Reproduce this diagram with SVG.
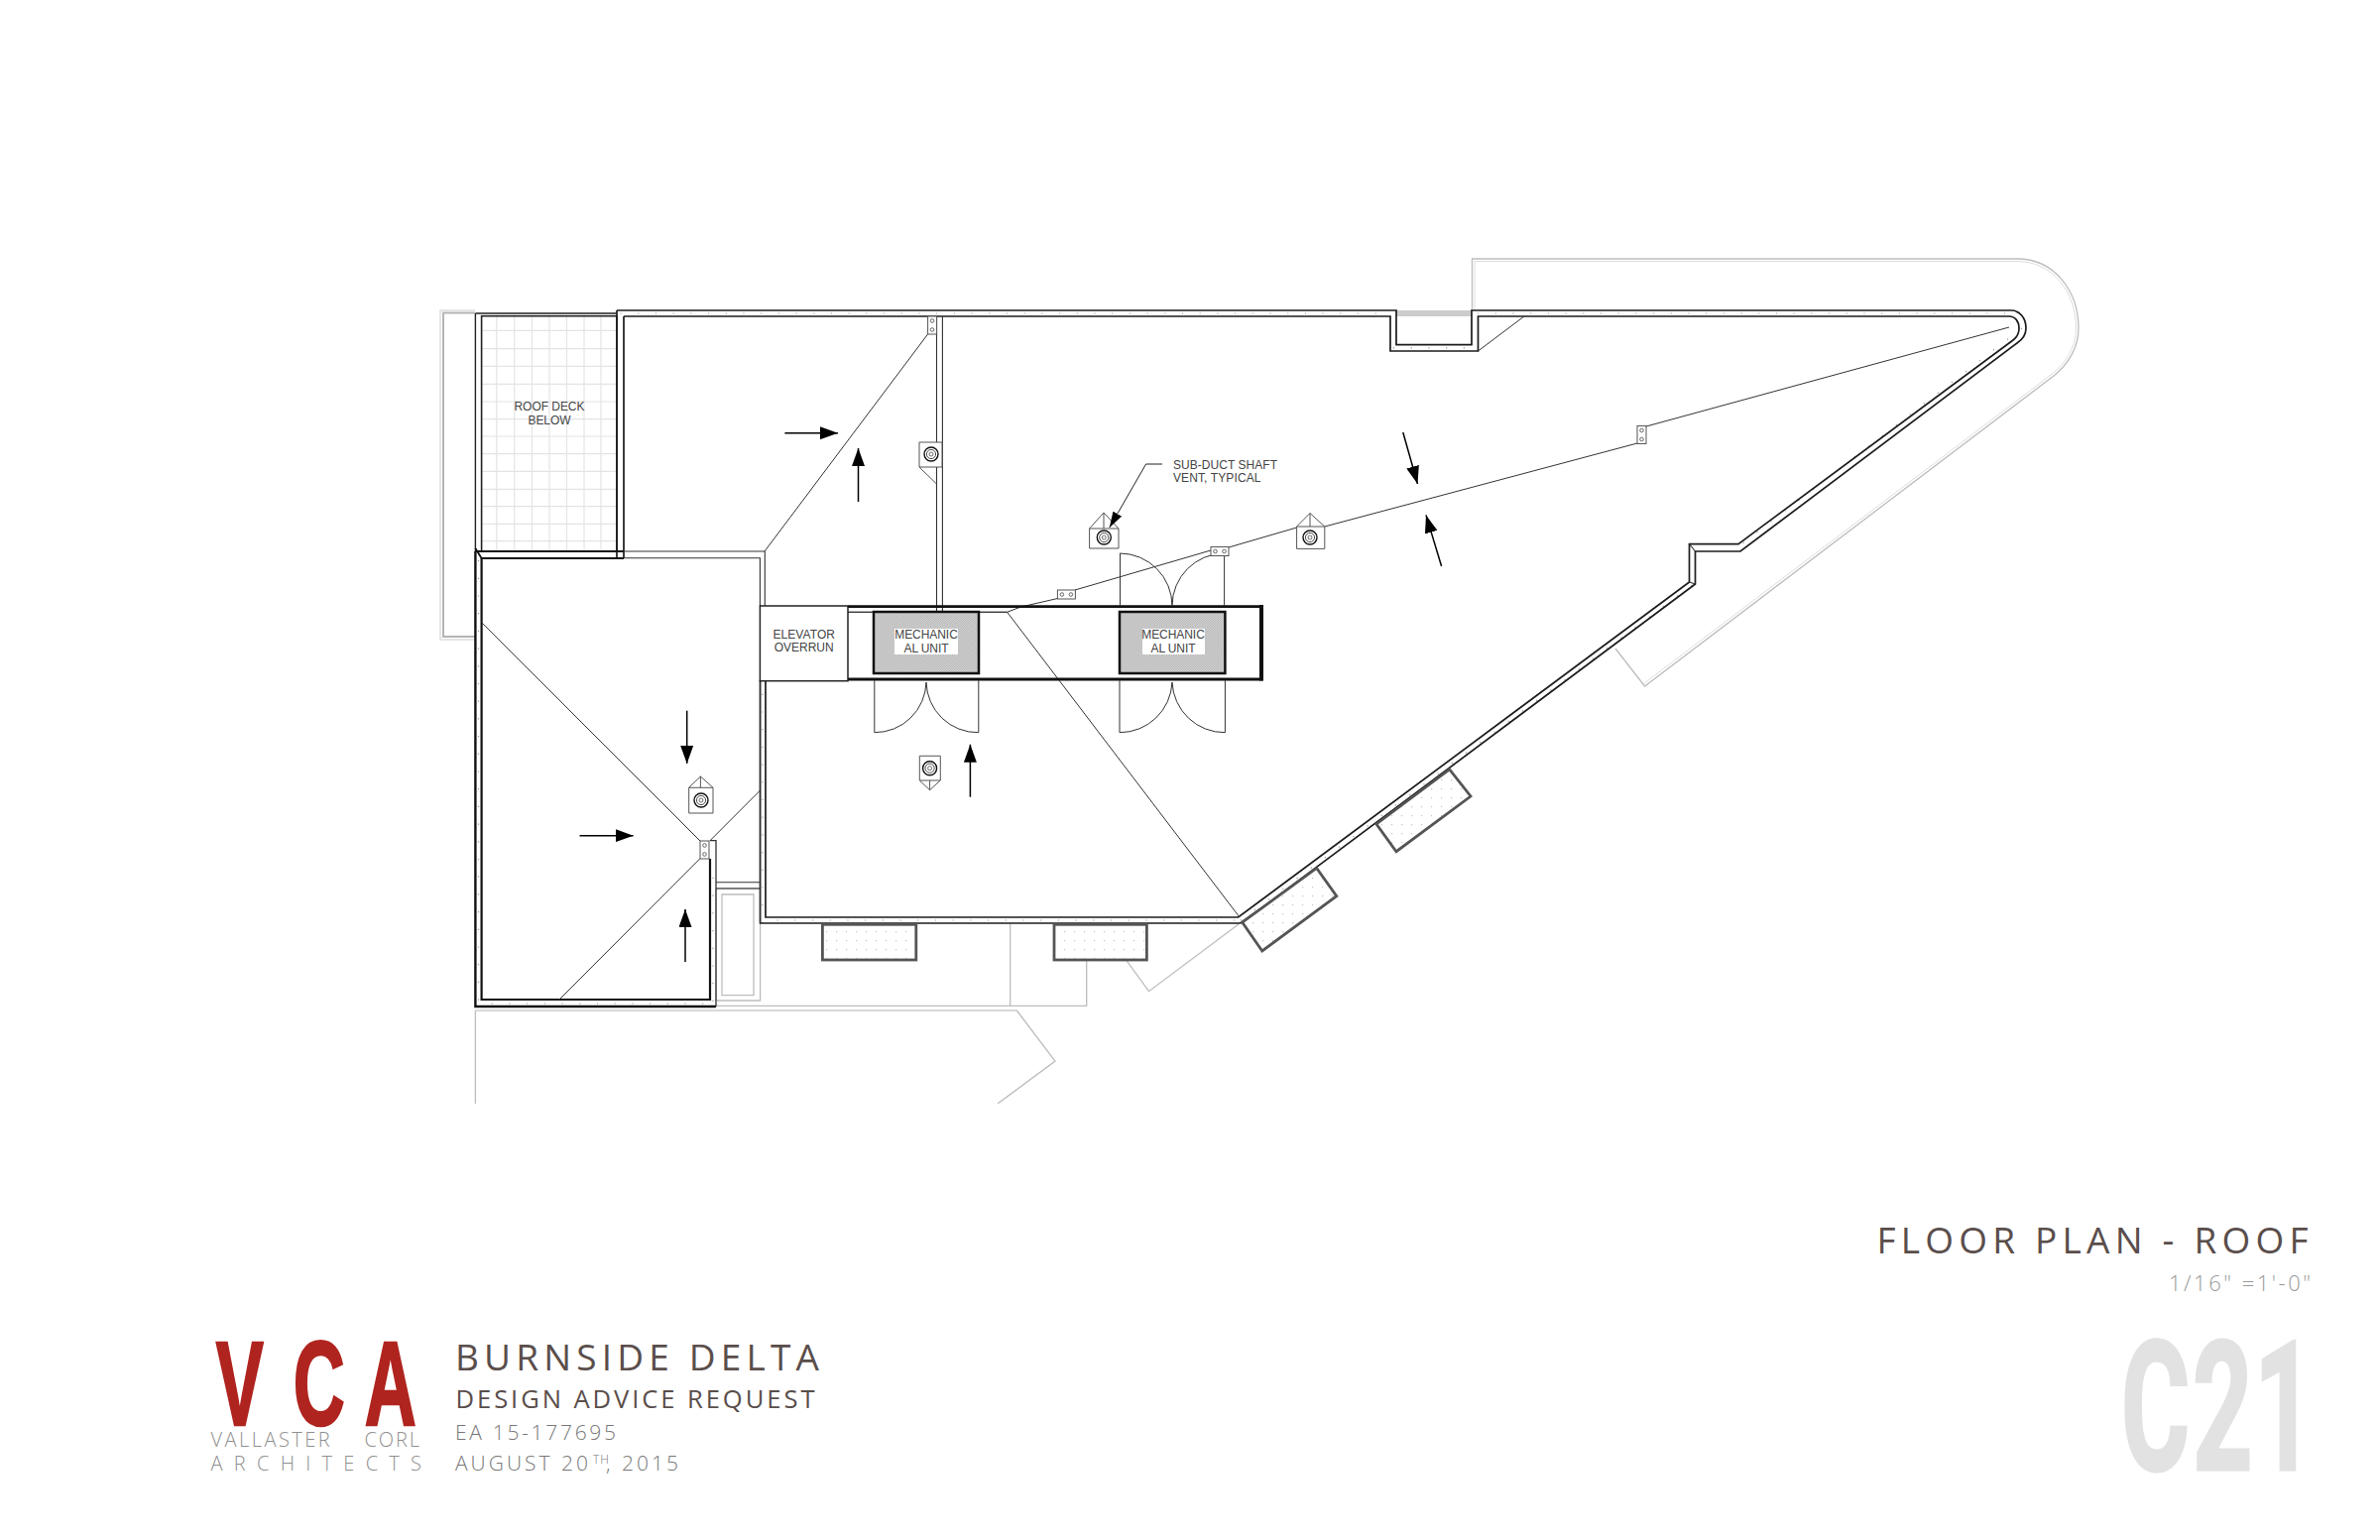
<svg xmlns="http://www.w3.org/2000/svg" xmlns:xlink="http://www.w3.org/1999/xlink" width="2400" height="1553" viewBox="0 0 2400 1553">
<style>
.w{fill:none;stroke:#1c1c1c;stroke-width:1.7;stroke-linejoin:miter}
.t{fill:none;stroke:#333;stroke-width:1.1}
.f{fill:none;stroke:#333;stroke-width:1}
.p{fill:none;stroke:#bdbdbd;stroke-width:1.3}
.gr{fill:none;stroke:#e4e4e4;stroke-width:1.2}
.dot{fill:none;stroke:#999;stroke-width:1.2;stroke-dasharray:1.2 16.5}
.lb{font-family:"Liberation Sans",Arial,sans-serif;font-size:12px;fill:#444;text-anchor:middle;font-weight:400}
.o{font-family:"Open Sans","Noto Sans",sans-serif}
.arrow{stroke:#000;stroke-width:1.5;marker-end:url(#ah)}
.vb{fill:#fff;stroke:#555;stroke-width:1}
.pl{fill:url(#sp);stroke:#555;stroke-width:2.8}
</style>
<defs>
<marker id="ah" markerUnits="userSpaceOnUse" markerWidth="18" markerHeight="13" refX="18" refY="6.5" orient="auto"><path d="M0 0L18 6.5L0 13Z" fill="#000"/></marker>
<marker id="ah2" markerUnits="userSpaceOnUse" markerWidth="16" markerHeight="10" refX="16" refY="5" orient="auto"><path d="M0 0L16 5L0 10Z" fill="#000"/></marker>
<pattern id="mesh" width="2.4" height="2.4" patternUnits="userSpaceOnUse"><rect width="2.4" height="2.4" fill="#e2e2e2"/><rect width="1.2" height="1.2" fill="#a8a8a8"/><rect x="1.2" y="1.2" width="1.2" height="1.2" fill="#a8a8a8"/></pattern>
<pattern id="sp" width="10" height="9" patternUnits="userSpaceOnUse"><rect width="10" height="9" fill="#fff"/><rect x="3" y="3" width="1.2" height="1.2" fill="#c4c4c4"/></pattern>
<g id="rings"><circle r="7" fill="#fff" stroke="#111" stroke-width="1.4"/><circle r="4.6" fill="none" stroke="#222" stroke-width=".8"/><circle r="2" fill="none" stroke="#333" stroke-width=".7"/></g>
<g id="drainV"><rect width="9" height="18" class="vb"/><circle cx="4.5" cy="4.5" r="1.8" fill="#fff" stroke="#444" stroke-width=".8"/><circle cx="4.5" cy="13.5" r="1.8" fill="#fff" stroke="#444" stroke-width=".8"/></g>
<g id="drainH"><rect width="18" height="9" class="vb"/><circle cx="4.5" cy="4.5" r="1.8" fill="#fff" stroke="#444" stroke-width=".8"/><circle cx="13.5" cy="4.5" r="1.8" fill="#fff" stroke="#444" stroke-width=".8"/></g>
</defs>
<rect width="2400" height="1553" fill="#fff"/>

<g id="pale-outlines">
<path d="M479 313H444V645H479" fill="none" stroke="#ddd" stroke-width="1.5"/>
<path d="M479 315.5H447V642H479" fill="none" stroke="#b4b4b4" stroke-width="2"/>
<path class="p" d="M1484.5 313V261H2034C2072 261 2096 294 2096 331C2096 350 2086 367 2071 379L1658.6 692L1629 654"/>
<path d="M1487 313V263.5H2034C2070 263.5 2093.5 295 2093.5 331C2093.5 349 2084 365 2069.5 377L1658.2 689" fill="none" stroke="#ddd" stroke-width="1"/>
<path class="p" d="M722 896H766.6M722 896V1009H766.6V931M728 902H760V1003.7H728Z"/>
<path class="p" d="M722 1014.3H1095.7V968M1018.7 931.7V1014.3M1136 968.7L1158.5 999.7L1249 932"/>
<path d="M479.4 1019H1025.3" fill="none" stroke="#d8d8d8" stroke-width="2"/>
<path class="p" d="M479.4 1019V1113M1025.3 1019L1064 1070L1006 1113"/>
</g>

<g id="roof-deck">
<path class="gr" d="M500.8 319V556M518.7 319V556M536.5 319V556M554 319V556M571.5 319V556M589 319V556M606 319V556M486 333.3H622M486 351.7H622M486 369.3H622M486 387.3H622M486 405H622M486 422.7H622M486 440H622M486 457.7H622M486 475.3H622M486 493.3H622M486 510.7H622M486 528.3H622M486 545.7H622"/>
<rect x="485.6" y="318.7" width="136.4" height="237.3" fill="none" stroke="#222" stroke-width="1.6"/>
<text class="lb" x="554" y="414" textLength="71">ROOF DECK</text>
<text class="lb" x="554" y="427.5" textLength="43">BELOW</text>
</g>

<g id="walls">
<path class="dot" d="M625.5 316H1400M1490 316H2025M2039 331L1752 552M1706.5 590L1251 928M1245 928H775M769 931V690M482.5 565V1012H718M719 1010V870M1405 350.8H1488"/>
<rect x="1408" y="313" width="76" height="6" fill="#ccc"/>
<path class="w" d="M622 313H1408V347.6H1484V313H2028C2037 313 2043 321 2043 331C2043 338 2040 342 2034 346L1755 556H1709.5V589L1252.7 930.4L1250 931H766.6V686"/>
<path class="w" d="M629 319H1402V354H1490.5V319H2026C2032 319 2036 324 2036 331C2036 336 2034 340 2030 343L1753 548.6H1703.5V587L1248.7 925H772V687"/>
<path class="w" d="M622 313V562.7M629 319V562.7"/>
<path d="M479.4 316H622M479.4 316V556" fill="none" stroke="#222" stroke-width="1.4"/>
<path d="M479.4 556V1015H722" fill="none" stroke="#111" stroke-width="2.4"/>
<path d="M722 1015V847.7H716" fill="none" stroke="#333" stroke-width="1.3"/>
<path d="M485.6 563V1008H716V866" fill="none" stroke="#111" stroke-width="2.2"/>
<path d="M479.4 556H629M485.6 563H629M479.4 553L485.6 563" fill="none" stroke="#111" stroke-width="1.8"/>
<path class="t" d="M629 556H771.3V611M629 562.7H766.4V611M766.4 686V931"/>
<path class="t" d="M944.5 319V617M950.4 319V617"/>
<path class="t" d="M722 889.7H766.6M722 896H766.6"/>
<path class="t" d="M1703.5 548.6L1709.5 556M1703.5 587L1709.5 589"/>
</g>

<g id="ridges">
<path class="f" d="M935.6 337L771 556M485.6 627.7L706 848M716 847.7L766.6 797M706 865.7L564 1008"/>
<path class="f" d="M1015.4 617L1250 925M1490.5 354L1537 319"/>
<path class="f" d="M855 617.3H1015.4L1029.6 612L1066.4 603.5M1084 595L1221 555M1239 552L1307.6 532M1335.8 531L1651 447M1660 430L2026 330"/>
</g>

<g id="core">
<path d="M855 611.7H1272V685H855" fill="none" stroke="#111" stroke-width="2.8"/>
<path d="M1272 610V686.5" stroke="#111" stroke-width="4" fill="none"/>
<path class="t" d="M855 617.3H1015.4"/>
</g>

<g id="doors">
<path class="f" d="M881.8 686V738.7A52 52 0 0 0 934 688A52 52 0 0 0 986.8 738.7V686"/>
<path class="f" d="M1129 686V738.7A53 53 0 0 0 1182 688A53 53 0 0 0 1235.4 738.7V686"/>
<path class="f" d="M1129.5 611V558A53 53 0 0 1 1182 611A53 53 0 0 1 1234.6 558V611"/>
</g>

<g id="elevator-overrun">
<rect x="766.4" y="611" width="88.6" height="75.7" fill="#fff" stroke="#222" stroke-width="1.5"/>
<text class="lb" x="810.7" y="644.3" textLength="62.5">ELEVATOR</text>
<text class="lb" x="810.7" y="657.3" textLength="60">OVERRUN</text>
</g>

<g id="mech-unit-1">
<rect x="881" y="617" width="106" height="62" fill="url(#mesh)" stroke="#111" stroke-width="2.5"/>
<rect x="902" y="634" width="64" height="26" fill="#fff"/>
<text class="lb" x="934" y="644.3" textLength="63.6">MECHANIC</text>
<text class="lb" x="934" y="658.3" textLength="45">AL UNIT</text>
</g>
<g id="mech-unit-2">
<rect x="1129" y="617" width="106.4" height="62" fill="url(#mesh)" stroke="#111" stroke-width="2.5"/>
<rect x="1152" y="634" width="63" height="26" fill="#fff"/>
<text class="lb" x="1183" y="644.3" textLength="63.6">MECHANIC</text>
<text class="lb" x="1183" y="658.3" textLength="45">AL UNIT</text>
</g>

<g id="planters">
<rect x="829.4" y="932.3" width="94.4" height="35.7" class="pl"/>
<rect x="1063" y="932.3" width="93.4" height="35.7" class="pl"/>
<path class="pl" d="M1252.7 930L1327.7 875.4L1347.8 903.6L1272.8 959Z"/>
<path class="pl" d="M1388 831L1461.7 776L1483 803L1408 858.7Z"/>
</g>

<g id="drains">
<use xlink:href="#drainV" href="#drainV" x="935.6" y="319"/>
<use xlink:href="#drainV" href="#drainV" x="706" y="848"/>
<use xlink:href="#drainV" href="#drainV" x="1651" y="429.5"/>
<use xlink:href="#drainH" href="#drainH" x="1066.4" y="595"/>
<use xlink:href="#drainH" href="#drainH" x="1221" y="551.5"/>
</g>

<g id="vents">
<g id="vent-a"><path class="vb" d="M927 446H950V471H927ZM927 471L944.5 488"/><use xlink:href="#rings" href="#rings" x="939" y="458"/></g>
<g id="vent-b"><path class="vb" d="M694.7 794.3L706.4 783L719 794.3V820H694.7ZM694.7 794.3H719M706.4 783V794.3"/><use xlink:href="#rings" href="#rings" x="707" y="807"/></g>
<g id="vent-c"><path class="vb" d="M927.3 762.3H948.3V787L937.6 796.7L927.3 787ZM927.3 787H948.3M937.6 787V796.7"/><use xlink:href="#rings" href="#rings" x="937.6" y="774.7"/></g>
<g id="vent-d"><path class="vb" d="M1098.6 533L1113 517L1128 533V553H1098.6ZM1098.6 533H1128M1113 517V533"/><use xlink:href="#rings" href="#rings" x="1113.3" y="542"/></g>
<g id="vent-e"><path class="vb" d="M1307.6 531L1321 517.5L1335.8 531V553.4H1307.6ZM1307.6 531H1335.8M1321 517.5V531"/><use xlink:href="#rings" href="#rings" x="1321" y="542"/></g>
</g>

<g id="connectors">
<line class="arrow" x1="791.4" y1="436.7" x2="845" y2="436.7"/>
<line class="arrow" x1="865.5" y1="506" x2="865.5" y2="452"/>
<line class="arrow" x1="692.7" y1="716.7" x2="692.7" y2="770"/>
<line class="arrow" x1="584.5" y1="842.7" x2="638.6" y2="842.7"/>
<line class="arrow" x1="691" y1="970" x2="691" y2="917"/>
<line class="arrow" x1="978.4" y1="803.7" x2="978.4" y2="750.7"/>
<line class="arrow" x1="1414.8" y1="436" x2="1429.5" y2="488"/>
<line class="arrow" x1="1453.6" y1="571" x2="1438" y2="519.4"/>
<path d="M1172 468H1155.6L1118.8 532" fill="none" stroke="#222" stroke-width="1" marker-end="url(#ah2)"/>
</g>

<g id="note-label">
<text class="lb" style="text-anchor:start" x="1183" y="473.3" textLength="105">SUB-DUCT SHAFT</text>
<text class="lb" style="text-anchor:start" x="1183" y="486.3" textLength="88.5">VENT, TYPICAL</text>
</g>

<g id="title-block">
<text transform="translate(217.7 1437) scale(.6 1)" font-family="Liberation Sans,sans-serif" font-weight="700" font-size="120" fill="#b0241f" stroke="#b0241f" stroke-width="2.5" x="0 130 250">VCA</text>
<text class="o" font-size="20" font-weight="300" fill="#8f8f8f" x="212.6" y="1459.3" textLength="120">VALLASTER</text>
<text class="o" font-size="20" font-weight="300" fill="#8f8f8f" x="367.5" y="1459.3" textLength="55.5">CORL</text>
<text class="o" font-size="20" font-weight="300" fill="#8f8f8f" x="212.6" y="1482.7" textLength="212.4">ARCHITECTS</text>
<text class="o" font-size="37" fill="#5a4e4b" x="459" y="1381.5" textLength="367">BURNSIDE DELTA</text>
<text class="o" font-size="25.6" fill="#5a4e4b" x="459.5" y="1420" textLength="362">DESIGN ADVICE REQUEST</text>
<text class="o" font-size="21" font-weight="300" fill="#777" x="459" y="1451.7" textLength="162">EA 15-177695</text>
<text class="o" font-size="21" font-weight="300" fill="#777" y="1483" letter-spacing="3"><tspan x="459">AUGUST 20</tspan><tspan x="598" dy="-7" font-size="12" letter-spacing="1">TH</tspan><tspan x="611" dy="7">, 2015</tspan></text>
</g>

<g id="sheet-title">
<text class="o" font-size="37" font-weight="500" fill="#5a4e4b" x="1892.5" y="1264" textLength="435">FLOOR PLAN - ROOF</text>
<text class="o" font-size="22" font-weight="300" fill="#9a9a9a" x="2187" y="1302.3" textLength="143">1/16" =1'-0"</text>
<text transform="translate(2139 1481.8) scale(.58 1)" font-family="Roboto,sans-serif" font-weight="700" font-size="182" fill="#e2e2e2" stroke="#e2e2e2" stroke-width="3" x="0 124 231">C21</text>
</g>
</svg>
